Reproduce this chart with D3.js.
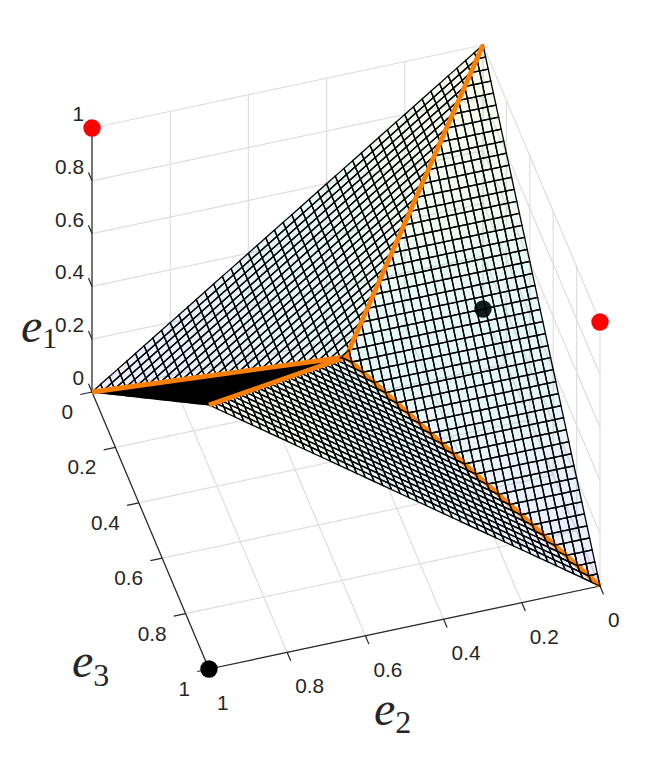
<!DOCTYPE html>
<html><head><meta charset="utf-8">
<script src="https://cdn.jsdelivr.net/npm/d3@7/dist/d3.min.js"></script>
<style>html,body{margin:0;background:#fff}svg{display:block}text{font-family:"Liberation Sans",Arial,sans-serif;fill:#262626}</style>
</head><body><div id="c"></div>
<script>
// Axis tick values
const tickE1 = [0, 0.2, 0.4, 0.6, 0.8, 1];
const tickE2 = [0, 0.2, 0.4, 0.6, 0.8, 1];
const tickE3 = [0, 0.2, 0.4, 0.6, 0.8, 1];
const tickText = ["0", "0.2", "0.4", "0.6", "0.8", "1"];
// Piecewise-flat surface: corners of each facet as [e1, e2, e3]
const apex = [0.5, 0.5, 0.5];
const cornerA = [0, 1, 0];
const cornerB = [1, 0, 0];
const cornerC = [0, 0, 1];
const cornerD = [1, 1, 1];
const facets = [[cornerB, cornerC, apex], [cornerA, cornerB, apex], [cornerC, cornerD, apex], [cornerA, cornerD, apex]];
const ridges = [[cornerA, apex], [cornerB, apex], [cornerD, apex], [cornerC, apex]];
const meshCells = 45;
// Marked points as [e1, e2, e3]
const redPoints = [[1, 1, 0], [1, 0, 1]];
const hiddenPoints = [[0, 0, 0]];
const blackPoints = [[0, 1, 1]];
const colorStops = ["#8080ff", "#50cfc8", "#f2f280"];

const W = 664, H = 757;
const svg = d3.select("#c").append("svg").attr("width", W).attr("height", H);

// Oblique projection built from one linear scale per axis and screen direction
const e1y = d3.scaleLinear([0, 1], [0, -264]);
const e2x = d3.scaleLinear([0, 1], [0, -391]);
const e2y = d3.scaleLinear([0, 1], [0, 83]);
const e3x = d3.scaleLinear([0, 1], [0, 117]);
const e3y = d3.scaleLinear([0, 1], [0, 277]);
const ox = 483, oy = 309;
const px = p => ox + e2x(p[1]) + e3x(p[2]);
const py = p => oy + e1y(p[0]) + e2y(p[1]) + e3y(p[2]);
const depth = p => 117786 * p[0] + 30888 * p[1] + 103488 * p[2];
const color = d3.scaleLinear([0, 0.5, 1], colorStops).interpolate(d3.interpolateRgb);
const line = d3.line().x(px).y(py);
const poly = pts => line(pts) + "Z";

function segment(g, a, b, stroke, w) {
  g.append("path").attr("d", line([a, b])).attr("stroke", stroke).attr("stroke-width", w).attr("fill", "none");
}

// Back walls and floor grid
const grid = svg.append("g");
const gc = "#dedede", gw = 1.2;
tickE1.forEach(t => {
  segment(grid, [t, 1, 0], [t, 0, 0], gc, gw);
  segment(grid, [t, 0, 0], [t, 0, 1], gc, gw);
});
tickE2.forEach(t => {
  segment(grid, [0, t, 0], [0, t, 1], gc, gw);
  segment(grid, [0, t, 0], [1, t, 0], gc, gw);
});
tickE3.forEach(t => {
  segment(grid, [0, 0, t], [0, 1, t], gc, gw);
  segment(grid, [0, 0, t], [1, 0, t], gc, gw);
});

// Axes
const axes = svg.append("g");
const ac = "#262626", aw = 1.2;
const fs = 20.8;
segment(axes, [0, 1, 0], [1, 1, 0], ac, aw);
segment(axes, [0, 1, 0], [0, 1, 1], ac, aw);
segment(axes, [0, 1, 1], [0, 0, 1], ac, aw);
tickE1.forEach((t, i) => {
  segment(axes, [t, 1, 0], [t, 1, -0.03], ac, aw);
  axes.append("text").attr("x", px([t, 1, 0]) - 8).attr("y", py([t, 1, 0]) - 7)
    .attr("text-anchor", "end").attr("font-size", fs).text(tickText[i]);
});
tickE2.forEach((t, i) => {
  segment(axes, [0, t, 1], [0, t, 1.03], ac, aw);
  axes.append("text").attr("x", px([0, t, 1]) + 8).attr("y", py([0, t, 1]) + 41)
    .attr("font-size", fs).text(tickText[i]);
});
tickE3.forEach((t, i) => {
  segment(axes, [0, 1, t], [0, 1.03, t], ac, aw);
  axes.append("text").attr("x", px([0, 1, t]) - 19).attr("y", py([0, 1, t]) + 27)
    .attr("text-anchor", "end").attr("font-size", fs).text(tickText[i]);
});

// Points hidden behind the surface come first
const dots = (pts, fill, r) => svg.append("g").selectAll("circle").data(pts).join("circle")
  .attr("cx", px).attr("cy", py).attr("r", r).attr("fill", fill);
dots(hiddenPoints, "#000", 8.7);

// Value of e1 on a grid node, from the facet whose footprint holds it
function inFacet(f, e2, e3) {
  const [a, b, c] = f;
  const d = (b[1] - a[1]) * (c[2] - a[2]) - (c[1] - a[1]) * (b[2] - a[2]);
  const u = ((e2 - a[1]) * (c[2] - a[2]) - (c[1] - a[1]) * (e3 - a[2])) / d;
  const v = ((b[1] - a[1]) * (e3 - a[2]) - (e2 - a[1]) * (b[2] - a[2])) / d;
  return [u, v];
}
function nodeValue(e2, e3) {
  for (const f of facets) {
    const [u, v] = inFacet(f, e2, e3);
    if (u >= -1e-9 && v >= -1e-9 && u + v <= 1 + 1e-9) return f[0][0] + u * (f[1][0] - f[0][0]) + v * (f[2][0] - f[0][0]);
  }
  return 0;
}
const meshScale = d3.scaleLinear([0, meshCells], [0, 1]);
const cells = [];
d3.range(meshCells).forEach(i => d3.range(meshCells).forEach(j => {
  const n = [[i, j], [i + 1, j], [i + 1, j + 1], [i, j + 1]].map(([a, b]) => {
    const e2 = meshScale(a), e3 = meshScale(b);
    return [nodeValue(e2, e3), e2, e3];
  });
  cells.push({ n, i, j, d: d3.mean(n, depth), z: d3.mean(n, p => p[0]) });
}));
cells.sort((a, b) => a.d - b.d);
const meshW = 1.3;
svg.append("g").selectAll("path").data(cells).join("path")
  .attr("d", c => poly(c.n)).attr("fill", c => color(c.z)).attr("fill-opacity", 0.15)
  .attr("stroke", "#000").attr("stroke-width", meshW);

// Ridge lines
const orange = svg.append("g");
ridges.forEach(r => segment(orange, r[0], r[1], "#ff8000", 4.8));
// Mesh strokes that cut across the ridge running to (0,0,1)
const notch = cells.filter(c => (c.i + c.j === meshCells - 1 || c.i + c.j === meshCells) && c.i < meshCells / 2);
svg.append("g").selectAll("path").data(notch).join("path")
  .attr("d", c => poly(c.n)).attr("fill", "none").attr("stroke", "#000").attr("stroke-width", meshW).attr("stroke-opacity", 0.9);

dots(redPoints, "#ff0000", 8.7);
dots(blackPoints, "#000", 8.7);

// Axis titles
function title(x, y, sub, dy, size) {
  const t = svg.append("text").attr("x", x).attr("y", y);
  t.append("tspan").attr("font-family", "'Liberation Serif',serif").attr("font-style", "italic").attr("font-size", 48).text("e");
  t.append("tspan").attr("font-family", "'Liberation Serif',serif").attr("font-size", size).attr("dy", dy).text(sub);
}
title(21, 342, "1", 6, 30);
title(374, 725, "2", 8, 32);
title(72, 677, "3", 9, 32);
</script></body></html>
